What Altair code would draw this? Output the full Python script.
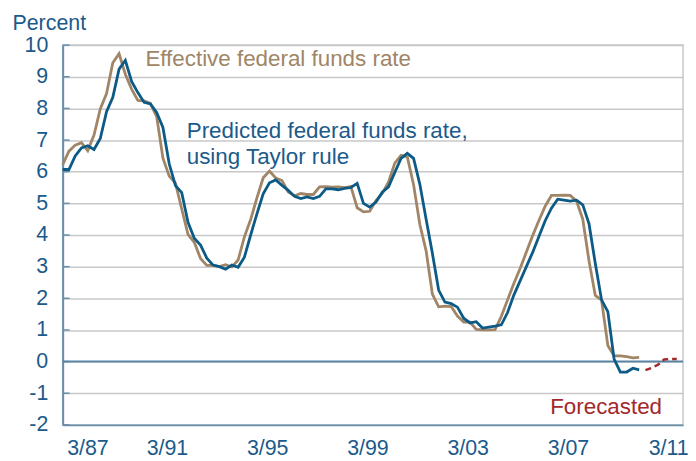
import altair as alt
import pandas as pd

# Quarterly data, index 0 = 3/87
EFFECTIVE = [
    6.22, 6.65, 6.84, 6.92, 6.66, 7.16, 7.98, 8.47, 9.44, 9.73,
    9.08, 8.61, 8.25, 8.24, 8.16, 7.74, 6.43, 5.86, 5.64, 4.82,
    4.02, 3.77, 3.26, 3.04, 3.04, 3.00, 3.06, 2.99, 3.21, 3.94,
    4.49, 5.17, 5.81, 6.02, 5.80, 5.72, 5.36, 5.24, 5.31, 5.28,
    5.28, 5.52, 5.53, 5.51, 5.52, 5.50, 5.53, 4.86, 4.73, 4.75,
    5.09, 5.31, 5.68, 6.27, 6.52, 6.47, 5.59, 4.33, 3.50, 2.13,
    1.73, 1.75, 1.74, 1.44, 1.25, 1.25, 1.02, 1.00, 1.00, 1.01,
    1.43, 1.95, 2.47, 2.94, 3.46, 3.98, 4.46, 4.91, 5.25, 5.25,
    5.26, 5.25, 5.07, 4.50, 3.18, 2.09, 1.94, 0.51, 0.18, 0.18,
    0.16, 0.12, 0.13,
]
PREDICTED = [
    6.07, 6.07, 6.50, 6.75, 6.82, 6.70, 7.05, 7.90, 8.35, 9.24,
    9.52, 8.85, 8.50, 8.19, 8.14, 7.87, 7.40, 6.25, 5.56, 5.34,
    4.40, 3.90, 3.68, 3.27, 3.05, 3.00, 2.92, 3.05, 2.98, 3.30,
    4.00, 4.67, 5.30, 5.65, 5.74, 5.57, 5.41, 5.22, 5.15, 5.20,
    5.15, 5.22, 5.46, 5.46, 5.43, 5.47, 5.50, 5.63, 5.00, 4.88,
    5.04, 5.35, 5.52, 5.98, 6.42, 6.58, 6.42, 5.60, 4.50, 3.42,
    2.26, 1.88, 1.83, 1.72, 1.37, 1.22, 1.26, 1.06, 1.09, 1.12,
    1.16, 1.55, 2.10, 2.55, 3.00, 3.45, 3.95, 4.45, 4.85, 5.13,
    5.10, 5.07, 5.10, 4.95, 4.35, 3.10, 1.95, 1.58, 0.08, -0.33,
    -0.33, -0.21, -0.26,
]
FORECAST_START = 93
FORECAST = [-0.27, -0.20, -0.10, 0.07, 0.08, 0.08]

TICK_VALUES = [0, 16, 32, 48, 64, 80, 96]
TICK_LABELS = ["3/87", "3/91", "3/95", "3/99", "3/03", "3/07", "3/11"]
Y_TICKS = list(range(-2, 11))

# Annotation texts, anchored in data coordinates (quarter index, percent)
ANNOT_EFF = {"t": ["Effective federal funds rate"], "q": [13.2], "v": [9.33]}
ANNOT_PRED = {"t": ["Predicted federal funds rate,", "using Taylor rule"],
              "q": [19.8, 19.8], "v": [7.07, 6.25]}
ANNOT_FC = {"t": ["Forecasted"], "q": [77.8], "v": [-1.66]}

FONT = "Liberation Sans"
TEXT_BLUE = "#1b5a8a"
TAN = "#a08566"
BLUE = "#0c5a86"
RED = "#a3282b"
AXIS_LINE = "#6a8fab"
GRID = "#c8c8c8"

eff = pd.DataFrame({"q": list(range(len(EFFECTIVE))), "v": EFFECTIVE})
pred = pd.DataFrame({"q": list(range(len(PREDICTED))), "v": PREDICTED})
fc = pd.DataFrame({"q": list(range(FORECAST_START, FORECAST_START + len(FORECAST))), "v": FORECAST})

x_enc = alt.X(
    "q:Q",
    scale=alt.Scale(domain=[0, 99], nice=False, zero=False),
    axis=alt.Axis(
        values=TICK_VALUES,
        labelExpr=f"{TICK_LABELS}[datum.value / 16]",
        grid=False, ticks=False,
        domainColor=AXIS_LINE, domainWidth=2,
        labelFont=FONT, labelFontSize=21.5, labelColor=TEXT_BLUE,
        labelPadding=30, labelOffset=4, labelBaseline="alphabetic",
        title=None,
    ),
)
y_enc = alt.Y(
    "v:Q",
    scale=alt.Scale(domain=[-2, 10], nice=False, zero=False),
    axis=alt.Axis(
        values=Y_TICKS, labelExpr="'' + datum.value",
        grid=True, gridColor=GRID, gridWidth=1.5,
        ticks=False,
        domainColor=AXIS_LINE, domainWidth=2,
        labelFont=FONT, labelFontSize=21.5, labelColor=TEXT_BLUE,
        labelPadding=15,
        title="Percent", titleAngle=0, titleAlign="left",
        titleBaseline="alphabetic", titleX=-51, titleY=-16,
        titleFont=FONT, titleFontSize=21.5, titleFontWeight="normal",
        titleColor=TEXT_BLUE,
    ),
)

inner_ticks = alt.Chart(pd.DataFrame({"v": Y_TICKS})).mark_rule(
    color=AXIS_LINE, strokeWidth=1.5
).encode(y=y_enc, x=alt.value(0), x2=alt.value(7))

zero_line = alt.Chart(pd.DataFrame({"v": [0]})).mark_rule(
    color="#5a84a3", strokeWidth=2
).encode(y=y_enc)

eff_line = alt.Chart(eff).mark_line(color=TAN, strokeWidth=2.8).encode(x=x_enc, y=y_enc)
pred_line = alt.Chart(pred).mark_line(color=BLUE, strokeWidth=2.8).encode(x=x_enc, y=y_enc)
fc_line = alt.Chart(fc).mark_line(color=RED, strokeWidth=2.5, strokeDash=[6, 4]).encode(x=x_enc, y=y_enc)


def annot(d, color):
    return alt.Chart(pd.DataFrame(d)).mark_text(
        align="left", baseline="alphabetic", font=FONT, fontSize=22.5, color=color
    ).encode(x=x_enc, y=y_enc, text="t:N")


chart = alt.layer(
    inner_ticks, zero_line, eff_line, pred_line, fc_line,
    annot(ANNOT_EFF, TAN), annot(ANNOT_PRED, TEXT_BLUE), annot(ANNOT_FC, RED),
).properties(
    width=624, height=382,
    autosize=alt.AutoSizeParams(type="none"),
    padding={"left": 55, "top": 36, "right": 5, "bottom": 35},
    background="white",
).configure_view(stroke=GRID, strokeWidth=1.5)

chart.save("out.html", embed_options={"renderer": "svg", "actions": False})
